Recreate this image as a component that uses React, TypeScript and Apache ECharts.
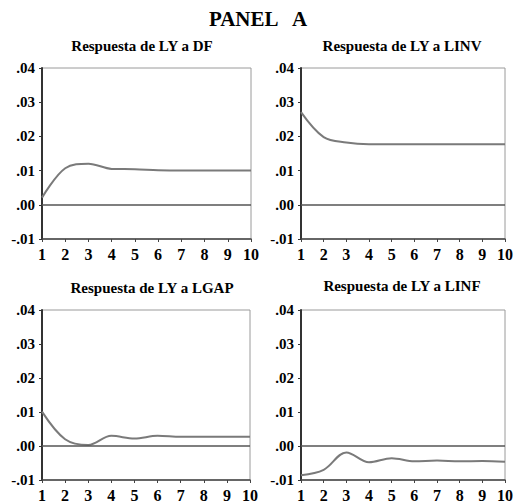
import React, { useEffect, useRef } from "react";
import * as echarts from "echarts";

const periods = [1, 2, 3, 4, 5, 6, 7, 8, 9, 10];
const respDF = [0.0021, 0.0107, 0.012, 0.0105, 0.0104, 0.0101, 0.01, 0.01, 0.01, 0.01];
const respLINV = [0.0271, 0.0198, 0.0182, 0.0177, 0.0177, 0.0177, 0.0177, 0.0177, 0.0177, 0.0177];
const respLGAP = [0.0101, 0.002, 0.0003, 0.003, 0.0022, 0.003, 0.0027, 0.0027, 0.0027, 0.0027];
const respLINF = [-0.0086, -0.007, -0.0019, -0.0048, -0.0036, -0.0045, -0.0043, -0.0045, -0.0044, -0.0046];
const panelTitles = ["Respuesta de LY a DF", "Respuesta de LY a LINV", "Respuesta de LY a LGAP", "Respuesta de LY a LINF"];
const yMin = -0.01;
const yMax = 0.04;
const yStep = 0.01;

const font = "'Liberation Serif', 'Times New Roman', serif";

const fmtY = (v: number) => {
  const r = Math.round(v * 100);
  const s = (Math.abs(r) / 100).toFixed(2).replace(/^0/, "");
  return (r < 0 ? "-" : "") + s;
};

export default function App() {
  const ref = useRef<HTMLDivElement>(null);
  useEffect(() => {
    if (!ref.current) return;
    const chart = echarts.init(ref.current, null, { renderer: "svg" });
    const grids = [
      { left: 42, top: 68, width: 209, height: 171 },
      { left: 301, top: 68, width: 209, height: 171 },
      { left: 42, top: 310, width: 208, height: 170 },
      { left: 301, top: 310, width: 209, height: 170 },
    ];
    const series = [respDF, respLINV, respLGAP, respLINF];
    const titleCenters = [
      [142, 46],
      [402, 46],
      [152, 288],
      [402, 286],
    ];
    chart.setOption({
      animation: false,
      backgroundColor: "#ffffff",
      grid: grids.map((g) => ({ ...g, show: true, borderColor: "#9a9a9a", borderWidth: 1, containLabel: false })),
      xAxis: grids.map((_, i) => ({
        type: "value",
        gridIndex: i,
        min: 1,
        max: 10,
        interval: 1,
        axisLine: { show: true, onZero: false, lineStyle: { color: "#444", width: 1.5 } },
        axisTick: { show: true, length: 3, lineStyle: { color: "#444" } },
        splitLine: { show: false },
        axisLabel: { color: "#000", fontFamily: font, fontWeight: "bold", fontSize: 16, margin: 7 },
      })),
      yAxis: grids.map((_, i) => ({
        type: "value",
        gridIndex: i,
        min: yMin,
        max: yMax,
        interval: yStep,
        axisLine: { show: true, lineStyle: { color: "#333", width: 2 } },
        axisTick: { show: true, length: 3, lineStyle: { color: "#333" } },
        splitLine: { show: false },
        axisLabel: { color: "#000", fontFamily: font, fontWeight: "bold", fontSize: 15, margin: 7, formatter: fmtY },
      })),
      series: series.map((vals, i) => ({
        type: "line",
        xAxisIndex: i,
        yAxisIndex: i,
        data: periods.map((p, j) => [p, vals[j]]),
        smooth: 0.35,
        showSymbol: false,
        symbol: "none",
        lineStyle: { color: "#7a7a7a", width: 2 },
        markLine: {
          silent: true,
          symbol: "none",
          label: { show: false },
          lineStyle: { color: "#555", width: 1.5, type: "solid" },
          data: [{ yAxis: 0 }],
        },
      })),
      graphic: [
        {
          type: "text",
          x: 258,
          y: 19,
          style: {
            text: "PANEL   A",
            font: `bold 21px ${font}`,
            fill: "#000",
            textAlign: "center",
            textVerticalAlign: "middle",
          },
        },
        ...panelTitles.map((t, i) => ({
          type: "text",
          x: titleCenters[i][0],
          y: titleCenters[i][1],
          style: {
            text: t,
            font: `bold 15px ${font}`,
            fill: "#000",
            textAlign: "center",
            textVerticalAlign: "middle",
          },
        })),
      ],
    });
    return () => chart.dispose();
  }, []);
  return <div ref={ref} style={{ position: "fixed", left: 0, top: 0, width: 516, height: 504 }} />;
}
